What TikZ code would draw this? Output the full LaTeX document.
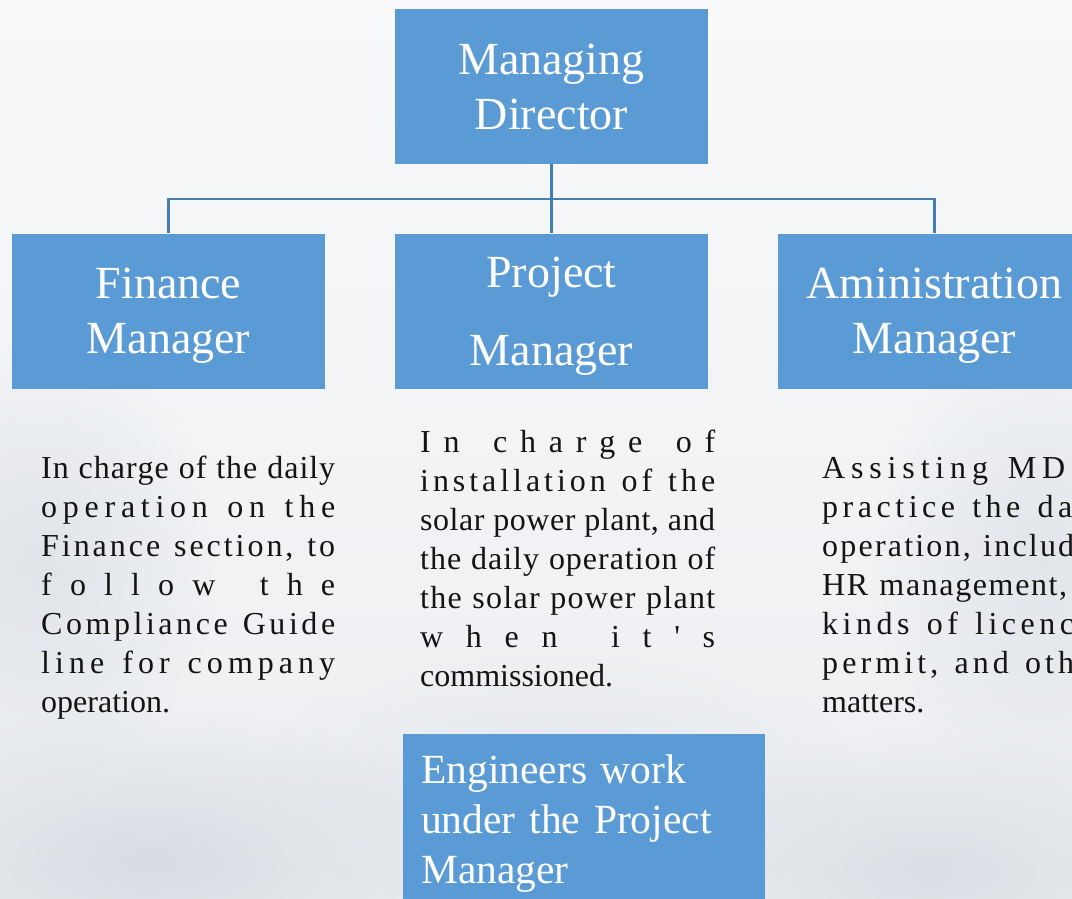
\documentclass[tikz,border=0pt]{standalone}
\usepackage{fontspec}
\setmainfont{Liberation Serif}[Ligatures=TeXOff]
\usetikzlibrary{fadings}
\definecolor{boxblue}{HTML}{5B9BD5}
\definecolor{linkblue}{HTML}{467EB4}
\definecolor{skytop}{HTML}{F8F9FA}
\definecolor{skybot}{HTML}{ECEEF1}
\definecolor{cloudgray}{HTML}{D3D8DF}
\definecolor{inktext}{HTML}{141414}
\tikzfading[name=softfade, inner color=transparent!0, outer color=transparent!100]
\ExplSyntaxOn
\bool_new:N \l_spr_first_bool
\NewDocumentCommand \sprline { m m }
  {
    \hbox_to_wd:nn { #1 }
      {
        \strut
        \bool_set_true:N \l_spr_first_bool
        \str_map_inline:nn { #2 }
          {
            \bool_if:NTF \l_spr_first_bool
              { \bool_set_false:N \l_spr_first_bool }
              { \hfil }
            ##1
          }
      }
  }
\ExplSyntaxOff
\tikzset{
  titlebox/.style={fill=boxblue, draw=none, text=white, align=center, inner sep=0pt,
    minimum width=313pt, minimum height=155pt, text depth=0pt,
    font=\fontsize{46}{55}\selectfont},
  desc/.style={anchor=north west, inner sep=0pt, align=left, text=inktext,
    font=\fontsize{32}{39}\selectfont},
  link/.style={draw=linkblue, line width=2.2pt},
  cloud/.style={path fading=softfade},
}
\begin{document}
\begin{tikzpicture}[x=1pt,y=-1pt]
\useasboundingbox (0,0) rectangle (1072,898);
\clip (0,0) rectangle (1072,898);
% sky background
\shade[top color=skytop, bottom color=skybot] (0,0) rectangle (1072,898);
\fill[cloudgray, cloud, opacity=0.8] (150,860) ellipse (360 and 150);
\fill[cloudgray, cloud, opacity=0.7] (930,870) ellipse (330 and 140);
\fill[cloudgray, cloud, opacity=0.55] (40,560) ellipse (180 and 220);
\fill[cloudgray, cloud, opacity=0.5] (1040,560) ellipse (170 and 230);
\fill[cloudgray, cloud, opacity=0.35] (560,780) ellipse (300 and 140);

% title boxes
\node[titlebox] (md) at (551.5,86.5) {Managing\\Director};
\node[titlebox] (fm) at (168.5,311) {Finance\\Manager};
\node[titlebox] (pm) at (551.5,311) {Project\\[23pt]Manager};
\node[titlebox] (am) at (934.5,311) {Aministration\\Manager};

% connectors
\coordinate (j) at (551.5,199);
\draw[link] (md.south) -- (j) -| (fm.north);
\draw[link] (j) -| (am.north);
\draw[link] (j) -- (pm.north);

% descriptions
\node[desc] (fd) at (41,450.7) {%
\sprline{294pt}{In charge of the daily}\\
\sprline{294pt}{operation on the}\\
\sprline{294pt}{Finance section, to}\\
\sprline{294pt}{follow the}\\
\sprline{294pt}{Compliance Guide}\\
\sprline{294pt}{line for company}\\
\strut operation.};

\node[desc] (pd) at (420,424.7) {%
\sprline{295pt}{In charge of}\\
\sprline{295pt}{installation of the}\\
\sprline{295pt}{solar power plant, and}\\
\sprline{295pt}{the daily operation of}\\
\sprline{295pt}{the solar power plant}\\
\sprline{295pt}{when it's}\\
\strut commissioned.};

\node[desc] (ad) at (822,450.7) {%
\sprline{243pt}{Assisting MD}\\
\sprline{250pt}{practice the da}\\
\sprline{252pt}{operation, includ}\\
\sprline{245pt}{HR management,}\\
\sprline{252pt}{kinds of licenc}\\
\sprline{252pt}{permit, and oth}\\
\strut matters.};

% engineers box
\node[anchor=north west, fill=boxblue, text=white, align=left, inner xsep=18pt,
  inner ysep=20pt, text width=326pt, font=\fontsize{41.5}{50}\selectfont]
  (eng) at (403,734) {Engineers work\\under the Project\\Manager};
\end{tikzpicture}
\end{document}
